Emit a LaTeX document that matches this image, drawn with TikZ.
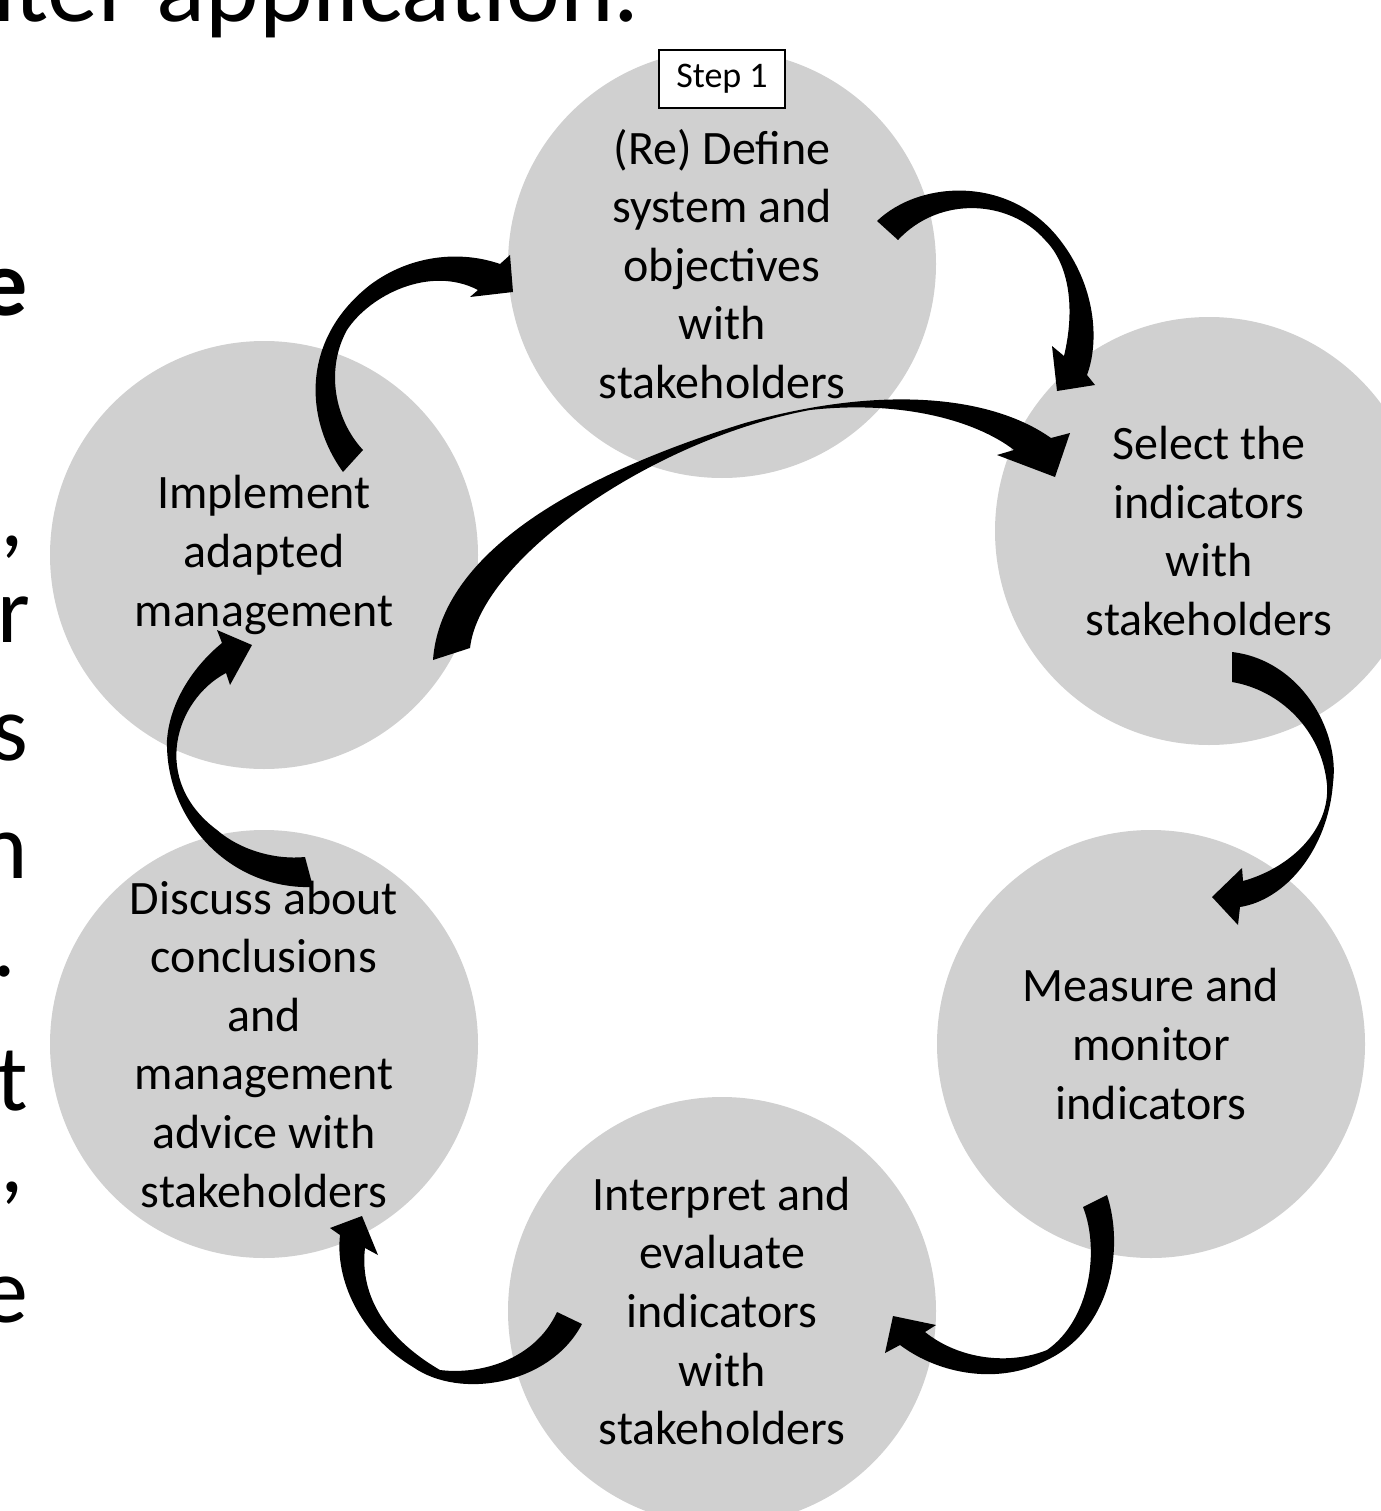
\documentclass[tikz,border=0pt]{standalone}
\usepackage{fontspec}
\setmainfont{Carlito}
\definecolor{circlegray}{RGB}{208,208,208}

\begin{document}
\begin{tikzpicture}[x=1pt,y=-1pt,
  phase/.style={circle,fill=circlegray,minimum size=428pt,inner sep=0pt,
    align=center,font=\fontsize{48}{58.6}\selectfont},
  stepbox/.style={draw,line width=1.2pt,fill=white,minimum width=126pt,
    minimum height=58pt,inner sep=0pt,font=\fontsize{36}{43}\selectfont},
  bgtext/.style={inner sep=0pt,anchor=base east,font=\fontsize{94}{115}\selectfont},
  blockarrow/.style={fill=black}]
  \useasboundingbox (0,0) rectangle (1380,1511);

  %text of the slide behind
  \node[bgtext,font=\fontsize{102}{124}\selectfont] (title) at (640,22) {nter application.};
  \node[bgtext,font=\fontsize{94}{115}\selectfont\bfseries] (fragA) at (28,316) {e};
  \node[bgtext] (fragB) at (24,546) {,};
  \node[bgtext] (fragC) at (30,642) {r};
  \node[bgtext] (fragD) at (28,760) {s};
  \node[bgtext] (fragE) at (28,878) {n};
  \node[bgtext] (fragF) at (16,976) {.};
  \node[bgtext] (fragG) at (28,1110) {t};
  \node[bgtext] (fragH) at (24,1192) {,};
  \node[bgtext] (fragI) at (28,1322) {e};

  %the six steps
  \node[phase] (define) at (722,264) {(Re) Define\\system and\\objectives\\with\\stakeholders};
  \node[phase] (select) at (1209,531) {Select the\\indicators\\with\\stakeholders};
  \node[phase] (measure) at (1151,1044) {Measure and\\monitor\\indicators};
  \node[phase] (interpret) at (722,1311) {Interpret and\\evaluate\\indicators\\with\\stakeholders};
  \node[phase] (discuss) at (264,1044) {Discuss about\\conclusions\\and\\management\\advice with\\stakeholders};
  \node[phase] (implement) at (264,555) {Implement\\adapted\\management};
  \node[stepbox] (step) at (722,79) {Step 1};

  %curved arrows
  \fill[blockarrow] (877,221) .. controls (920,180) and (1010,175) .. (1060,240)
        .. controls (1095,285) and (1100,340) .. (1087,375) -- (1095,385)
        -- (1057,391) -- (1052,346) -- (1064,356)
        .. controls (1075,310) and (1070,265) .. (1045,240)
        .. controls (1010,200) and (940,195) .. (898,240) -- cycle;
  \fill[blockarrow] (433,660) .. controls (440,560) and (560,480) .. (745,423)
        .. controls (880,385) and (990,395) .. (1051,438) -- (1070,433)
        -- (1055,477) -- (997,455) -- (1014,450)
        .. controls (975,420) and (900,400) .. (810,410)
        .. controls (650,440) and (480,560) .. (470,648) -- cycle;
  \fill[blockarrow] (1232,652) .. controls (1300,660) and (1340,730) .. (1333,783)
        .. controls (1328,850) and (1285,900) .. (1240,907) -- (1238,925)
        -- (1212,897) -- (1242,868) -- (1243,881)
        .. controls (1290,868) and (1330,830) .. (1327,785)
        .. controls (1322,730) and (1280,690) .. (1232,682) -- cycle;
  \fill[blockarrow] (1107,1195) .. controls (1125,1250) and (1110,1330) .. (1047,1360)
        .. controls (1000,1385) and (940,1375) .. (900,1345) -- (885,1353)
        -- (893,1316) -- (936,1325) -- (925,1332)
        .. controls (960,1360) and (1010,1365) .. (1047,1350)
        .. controls (1090,1320) and (1100,1250) .. (1083,1207) -- cycle;
  \fill[blockarrow] (582,1324) .. controls (550,1385) and (460,1400) .. (413,1367)
        .. controls (360,1335) and (335,1280) .. (340,1235) -- (330,1228)
        -- (362,1216) -- (378,1255) -- (365,1248)
        .. controls (360,1290) and (380,1335) .. (440,1370)
        .. controls (480,1375) and (535,1360) .. (557,1312) -- cycle;
  \fill[blockarrow] (305,857) -- (313,887) .. controls (230,890) and (165,820) .. (167,740)
        .. controls (170,700) and (195,665) .. (222,643) -- (217,630)
        -- (252,645) -- (230,685) -- (226,673)
        .. controls (175,700) and (150,780) .. (217,830)
        .. controls (240,850) and (275,860) .. (305,857) -- cycle;
  \fill[blockarrow] (343,472) .. controls (305,420) and (300,340) .. (370,285)
        .. controls (410,255) and (460,250) .. (500,264) -- (510,255)
        -- (513,292) -- (470,297) -- (478,290)
        .. controls (430,265) and (370,295) .. (347,330)
        .. controls (325,370) and (335,420) .. (363,450) -- cycle;
\end{tikzpicture}
\end{document}
